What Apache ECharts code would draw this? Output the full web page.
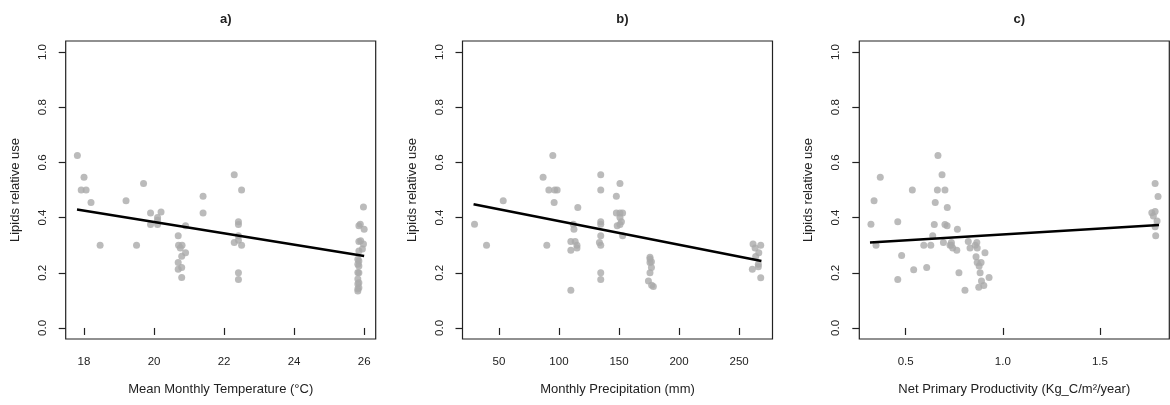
<!DOCTYPE html>
<html>
<head>
<meta charset="utf-8">
<script src="https://cdn.jsdelivr.net/npm/echarts@6/dist/echarts.min.js"></script>
<style>html,body{margin:0;padding:0;background:#fff}#c{width:1170px;height:405px}</style>
</head>
<body>
<div id="c"></div>
<script>
// ---- data ----
const panelTitles = ['a)', 'b)', 'c)'];
const xAxisNames = ['Mean Monthly Temperature (°C)', 'Monthly Precipitation (mm)', 'Net Primary Productivity (Kg_C/m²/year)'];
const yAxisName = 'Lipids relative use';
const yTicks = [0, 0.2, 0.4, 0.6, 0.8, 1.0];
const tempTicks = [18, 20, 22, 24, 26];
const precipTicks = [50, 100, 150, 200, 250];
const nppTicks = [0.5, 1.0, 1.5];

const tempX = [17.81,18.0,17.92,18.06,18.2,18.46,19.2,19.5,19.7,19.9,19.9,20.1,20.1,20.2,20.1,20.69,20.7,20.8,20.75,20.9,20.9,20.79,20.69,20.69,20.79,20.79,21.4,21.4,22.29,22.5,22.41,22.41,22.41,22.29,22.41,22.5,22.41,22.41,25.98,25.89,26.0,25.9,25.98,25.95,25.85,25.85,25.82,25.82,25.82,25.82,25.85,25.85,25.85,25.82,25.82,25.85,25.85,25.85,25.82];
const tempY = [0.625,0.546,0.50,0.50,0.455,0.30,0.461,0.30,0.524,0.417,0.375,0.40,0.375,0.42,0.39,0.334,0.30,0.30,0.29,0.37,0.273,0.26,0.237,0.213,0.219,0.183,0.477,0.417,0.555,0.50,0.385,0.375,0.334,0.31,0.318,0.30,0.20,0.176,0.438,0.376,0.358,0.316,0.304,0.286,0.243,0.225,0.201,0.177,0.159,0.141,0.37,0.313,0.279,0.249,0.231,0.20,0.164,0.146,0.134];

const precipX = [29.7,39.7,53.6,86.8,94.9,91.6,96.5,98.5,96,89.9,115.7,112,112.5,109.9,113.5,115,115,109.9,109.9,134.8,134.8,134.8,134.8,134.8,133.7,134.8,134.8,134.8,147.8,150.8,147.8,150.8,153,150.8,152,148.5,150.8,153,175.8,175.8,175.8,177,177,175.8,174.5,178.6,177.2,261.6,268,263.3,266.4,263.8,266,266,261,268];
const precipY = [0.376,0.30,0.461,0.546,0.625,0.50,0.50,0.50,0.455,0.30,0.437,0.376,0.358,0.313,0.313,0.30,0.29,0.282,0.137,0.555,0.50,0.385,0.376,0.334,0.31,0.30,0.20,0.176,0.477,0.524,0.417,0.417,0.417,0.40,0.385,0.37,0.375,0.334,0.256,0.25,0.237,0.24,0.219,0.20,0.17,0.15,0.155,0.304,0.30,0.29,0.273,0.259,0.231,0.222,0.213,0.182];

const nppX = [0.321,0.337,0.347,0.369,0.459,0.459,0.479,0.534,0.541,0.593,0.608,0.629,0.639,0.647,0.652,0.663,0.666,0.687,0.694,0.702,0.702,0.713,0.714,0.728,0.735,0.735,0.742,0.763,0.766,0.774,0.805,0.822,0.831,0.858,0.866,0.868,0.862,0.868,0.878,0.888,0.883,0.89,0.876,0.902,0.908,0.929,1.784,1.799,1.767,1.784,1.775,1.794,1.784,1.787];
const nppY = [0.376,0.461,0.30,0.546,0.385,0.176,0.263,0.50,0.211,0.30,0.219,0.30,0.334,0.375,0.455,0.50,0.625,0.555,0.31,0.50,0.375,0.37,0.437,0.30,0.31,0.30,0.29,0.282,0.358,0.20,0.137,0.313,0.29,0.30,0.31,0.29,0.258,0.237,0.225,0.237,0.20,0.17,0.148,0.154,0.273,0.183,0.524,0.476,0.418,0.422,0.406,0.388,0.367,0.334];

// fitted model lines
const tempFitX = [17.8, 26.0];
const tempFitY = [0.429, 0.261];
const precipFitX = [28.9, 268.6];
const precipFitY = [0.448, 0.243];
const nppFitX = [0.316, 1.804];
const nppFitY = [0.31, 0.373];

// ---- chart ----
const zip = (a, b) => a.map((v, i) => [v, b[i]]);
const panels = [
  {x: tempX, y: tempY, fx: tempFitX, fy: tempFitY, ticks: tempTicks, min: 17.477, max: 26.33, fmt: v => String(v)},
  {x: precipX, y: precipY, fx: precipFitX, fy: precipFitY, ticks: precipTicks, min: 19.7, max: 277.8, fmt: v => String(v)},
  {x: nppX, y: nppY, fx: nppFitX, fy: nppFitY, ticks: nppTicks, min: 0.261, max: 1.857, fmt: v => v.toFixed(1)}
];
const lefts = [65.7, 462.5, 859.3];
const W = 310, TOP = 41, H = 298;
const font = 'Liberation Sans, Arial, Helvetica, sans-serif';
const txt = '#222';

const option = {
  animation: false,
  backgroundColor: '#fff',
  grid: lefts.map(l => ({left: l, top: TOP, width: W, height: H, show: true, borderColor: '#222', borderWidth: 1.2, backgroundColor: 'transparent', containLabel: false})),
  title: panelTitles.map((t, i) => ({
    text: t, left: lefts[i] + W / 2, top: 8, textAlign: 'center',
    textStyle: {fontFamily: font, fontSize: 13, fontWeight: 'bold', color: txt}
  })),
  xAxis: panels.map((p, i) => ({
    type: 'value', gridIndex: i, min: p.min, max: p.max,
    name: xAxisNames[i], nameLocation: 'middle', nameGap: 44,
    nameTextStyle: {fontFamily: font, fontSize: 13, color: txt},
    axisLine: {show: false},
    axisTick: {show: true, length: 7, inside: false, customValues: p.ticks, lineStyle: {color: '#222', width: 1.2}},
    axisLabel: {customValues: p.ticks, formatter: p.fmt, margin: 17, fontFamily: font, fontSize: 11.5, color: txt},
    splitLine: {show: false}
  })),
  yAxis: panels.map((p, i) => ({
    type: 'value', gridIndex: i, min: -0.04, max: 1.04,
    name: yAxisName, nameLocation: 'middle', nameGap: 44,
    nameTextStyle: {fontFamily: font, fontSize: 13, color: txt},
    axisLine: {show: false},
    axisTick: {show: true, length: 7, customValues: yTicks, lineStyle: {color: '#222', width: 1.2}},
    axisLabel: {customValues: yTicks, formatter: v => v.toFixed(1), rotate: 90, margin: 17, fontFamily: font, fontSize: 11.5, color: txt},
    splitLine: {show: false}
  })),
  series: []
};
panels.forEach((p, i) => {
  option.series.push({
    type: 'scatter', xAxisIndex: i, yAxisIndex: i, data: zip(p.x, p.y),
    symbol: 'circle', symbolSize: 7, itemStyle: {color: '#aaaaaa'}, silent: true
  });
  option.series.push({
    type: 'line', xAxisIndex: i, yAxisIndex: i, data: zip(p.fx, p.fy),
    showSymbol: false, symbol: 'none', lineStyle: {color: '#000', width: 2.5}, silent: true
  });
});

const chart = echarts.init(document.getElementById('c'), null, {renderer: 'canvas'});
chart.setOption(option);
</script>
</body>
</html>
